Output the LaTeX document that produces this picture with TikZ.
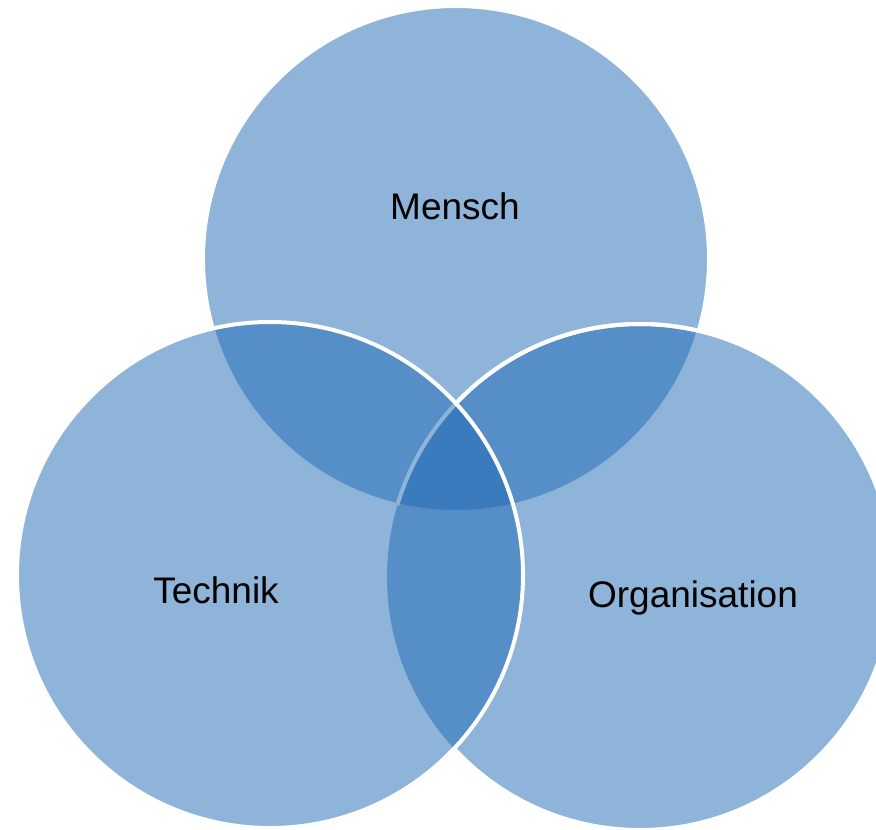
\documentclass[tikz,border=0pt]{standalone}
\usepackage{fontspec}
\setmainfont{Liberation Sans}
\definecolor{vennblue}{RGB}{31,105,181}
\tikzset{
  venn/.style={fill=vennblue, fill opacity=0.5},
  vennedge/.style={draw=white, line width=4pt},
  lbl/.style={font=\fontsize{37}{40}\selectfont, text=black, anchor=base, inner sep=0pt}
}
\begin{document}
\begin{tikzpicture}[x=1pt,y=-1pt]
\useasboundingbox (0,0) rectangle (876,830);
% top circle (Mensch)
\fill[venn] (456,259) circle (253);
\draw[vennedge] (456,259) circle (253);
% right circle (Organisation)
\fill[venn] (640,577) circle (253);
\begin{scope}[even odd rule]
  \clip (-10,-10) rectangle (900,900) (270,575) circle (253);
  \draw[vennedge] (640,577) circle (253);
\end{scope}
\begin{scope}
  \clip (456,259) circle (253);
  \draw[vennedge] (640,577) circle (253);
\end{scope}
% left circle (Technik)
\fill[venn] (270,575) circle (253);
\draw[vennedge] (270,575) circle (253);
% labels
\node[lbl] (mensch) at (455,219) {Mensch};
\node[lbl] (technik) at (216,603) {Technik};
\node[lbl] (orga) at (693,607) {Organisation};
\end{tikzpicture}
\end{document}
